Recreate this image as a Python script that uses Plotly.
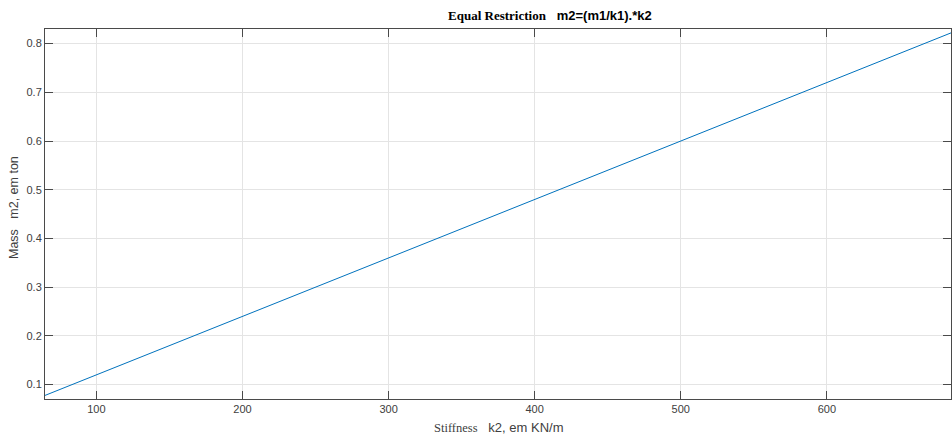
import plotly.graph_objects as go

# data (m2 = (m1/k1) * k2, a straight line)
k2_values = [60, 100, 200, 300, 400, 500, 600, 700]
m2_values = [0.072, 0.12, 0.24, 0.36, 0.48, 0.60, 0.72, 0.84]

x_ticks = [100, 200, 300, 400, 500, 600]
y_ticks = [0.1, 0.2, 0.3, 0.4, 0.5, 0.6, 0.7, 0.8]

AX = "#4a4a4a"
TXT = "#404040"
SANS = "Liberation Sans, Arial, sans-serif"
SERIF = "Liberation Serif, Times New Roman, serif"

fig = go.Figure()
fig.add_trace(go.Scatter(x=k2_values, y=m2_values, mode="lines",
                         line=dict(color="#0072BD", width=1), showlegend=False,
                         hoverinfo="skip"))

axis_common = dict(showline=True, linecolor=AX, linewidth=1, mirror="ticks",
                   ticks="inside", ticklen=8, tickcolor=AX, tickwidth=1,
                   showgrid=True, gridcolor="#e4e4e4", gridwidth=1,
                   zeroline=False, tickfont=dict(family=SANS, size=11, color=TXT))

fig.update_xaxes(range=[64.8, 685], tickvals=x_ticks,
                 ticktext=[str(v) for v in x_ticks], **axis_common)
fig.update_yaxes(range=[0.0704, 0.830], tickvals=y_ticks,
                 ticktext=[f"{v:.1f}" for v in y_ticks], **axis_common)

fig.update_layout(
    width=952, height=436,
    margin=dict(l=45, r=1, t=29, b=37),
    paper_bgcolor="white", plot_bgcolor="white",
    annotations=[
        dict(text=f'<b><span style="font-family:{SERIF};font-size:13px">Equal Restriction</span>'
                  f'   m2=(m1/k1).*k2</b>',
             xref="paper", yref="paper", x=(550 - 45) / 906, y=1, yshift=14,
             xanchor="center", yanchor="middle", showarrow=False,
             font=dict(family=SANS, size=13, color="#000000")),
        dict(text=f'<span style="font-family:{SERIF};font-size:12.5px">Stiffness</span>   k2, em KN/m',
             xref="paper", yref="paper", x=(499 - 45) / 906, y=0, yshift=-28,
             xanchor="center", yanchor="middle", showarrow=False,
             font=dict(family=SANS, size=13, color=TXT)),
        dict(text="Mass   m2, em ton", textangle=-90,
             xref="paper", yref="paper", x=0, xshift=-31, y=(399 - 208) / 370,
             xanchor="center", yanchor="middle", showarrow=False,
             font=dict(family=SANS, size=12.5, color=TXT)),
    ],
)

fig.write_html("out.html")
